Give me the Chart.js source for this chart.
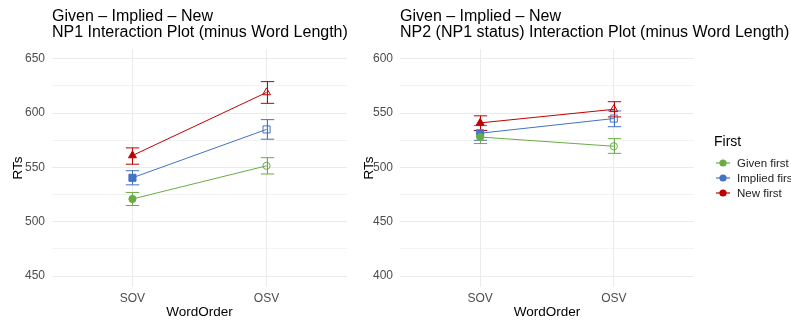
<!DOCTYPE html>
<html>
<head>
<meta charset="utf-8">
<script src="https://cdn.jsdelivr.net/npm/chart.js@4"></script>
<style>
  body { margin: 0; background: #fff; overflow: hidden; }
  #left { position: absolute; left: 0; top: 0; }
  #right { position: absolute; left: 355px; top: 0; }
</style>
</head>
<body>
<canvas id="left" width="355" height="320"></canvas>
<canvas id="right" width="436" height="320"></canvas>
<script>
// values
const categories = ['SOV', 'OSV'];
const groups = ['Given first', 'Implied first', 'New first'];

// NP1 panel
const np1Given = [521, 551.5], np1GivenLo = [515, 544], np1GivenHi = [527, 559];
const np1Implied = [540.5, 585], np1ImpliedLo = [534, 576], np1ImpliedHi = [547, 594];
const np1New = [561, 619], np1NewLo = [553, 609], np1NewHi = [568, 629];

// NP2 panel
const np2Given = [528, 519.5], np2GivenLo = [522, 513], np2GivenHi = [534, 526.5];
const np2Implied = [531.5, 545], np2ImpliedLo = [525, 537.5], np2ImpliedHi = [538.5, 552];
const np2New = [541, 553.5], np2NewLo = [534, 546.5], np2NewHi = [547.5, 560.5];

const colors = ['#6AAB45', '#4472C4', '#C00000'];
const shapes = ['circle', 'rect', 'triangle'];
const radii = [3.6, 5, 4.6];
const font = 'Liberation Sans, Arial, Helvetica, sans-serif';

// error bars, drawn under the points
const errorBars = {
  id: 'errorBars',
  beforeDatasetsDraw(chart) {
    const { ctx, scales: { x, y } } = chart;
    const half = (x.getPixelForValue(1.05) - x.getPixelForValue(0.95)) / 2;
    ctx.save();
    ctx.lineWidth = 1;
    chart.data.datasets.forEach(ds => {
      ctx.strokeStyle = ds.borderColor;
      ds.lo.forEach((lo, i) => {
        const px = Math.round(x.getPixelForValue(i + 1)) + 0.5;
        const yl = y.getPixelForValue(lo), yh = y.getPixelForValue(ds.hi[i]);
        ctx.beginPath();
        ctx.moveTo(px, yl); ctx.lineTo(px, yh);
        ctx.moveTo(px - half, yl); ctx.lineTo(px + half, yl);
        ctx.moveTo(px - half, yh); ctx.lineTo(px + half, yh);
        ctx.stroke();
      });
    });
    ctx.restore();
  }
};

// two-line title, left edge on the plot area like ggplot
const panelTitle = {
  id: 'panelTitle',
  afterDraw(chart, args, opts) {
    const { ctx, chartArea } = chart;
    ctx.save();
    ctx.fillStyle = '#000';
    ctx.font = '16px ' + font;
    ctx.textBaseline = 'alphabetic';
    opts.lines.forEach((t, i) => ctx.fillText(t, chartArea.left, 21 + i * 15.5));
    ctx.restore();
  }
};

// ggplot style legend at the right of the plot area
const sideLegend = {
  id: 'sideLegend',
  afterDraw(chart, args, opts) {
    if (!opts.show) return;
    const { ctx, chartArea } = chart;
    const x0 = chartArea.left + chartArea.width + 20;
    const mid = (chartArea.top + chartArea.bottom) / 2;
    ctx.save();
    ctx.textBaseline = 'middle';
    ctx.fillStyle = '#000';
    ctx.font = '14px ' + font;
    ctx.fillText(opts.title, x0, mid - 26);
    ctx.font = '11.5px ' + font;
    chart.data.datasets.forEach((ds, k) => {
      const yy = mid - 5 + k * 15;
      ctx.strokeStyle = ds.borderColor;
      ctx.fillStyle = ds.borderColor;
      ctx.lineWidth = 1.2;
      ctx.beginPath(); ctx.moveTo(x0 + 2, yy); ctx.lineTo(x0 + 16, yy); ctx.stroke();
      ctx.beginPath(); ctx.arc(x0 + 9, yy, 3.6, 0, Math.PI * 2); ctx.fill();
      ctx.fillStyle = '#222';
      ctx.fillText(ds.label, x0 + 23, yy + 0.5);
    });
    ctx.restore();
  }
};

function makeDatasets(vals, los, his) {
  return vals.map((v, k) => ({
    label: groups[k],
    data: v.map((y, i) => ({ x: i + 1, y: y })),
    lo: los[k], hi: his[k],
    borderColor: colors[k],
    borderWidth: 1,
    pointStyle: shapes[k],
    pointRadius: radii[k],
    pointBorderWidth: 1,
    pointBorderColor: colors[k],
    pointBackgroundColor: ctx => ctx.dataIndex === 0 ? colors[k] : 'rgba(0,0,0,0)'
  }));
}

function makeChart(id, title, datasets, yMin, yMax, padLeft, yWidth, showLegend) {
  return new Chart(document.getElementById(id), {
    type: 'line',
    data: { datasets },
    plugins: [errorBars, panelTitle, sideLegend],
    options: {
      responsive: false,
      animation: false,
      layout: { padding: { left: padLeft, right: showLegend ? 97 : 8, top: 49, bottom: 0 } },
      plugins: {
        panelTitle: { lines: title },
        sideLegend: { show: showLegend, title: 'First' },
        title: { display: false },
        legend: { display: false },
        tooltip: { enabled: false }
      },
      scales: {
        x: {
          type: 'linear', min: 0.4, max: 2.6,
          afterBuildTicks: s => { s.ticks = [{ value: 1 }, { value: 2 }]; },
          afterFit: s => { s.height = 33; },
          ticks: { callback: v => categories[v - 1], color: '#4D4D4D', font: { family: font, size: 12 }, padding: 4 },
          grid: { color: '#EBEBEB', drawTicks: false },
          border: { display: false },
          title: { display: true, text: 'WordOrder', color: '#000', font: { family: font, size: 13.5 }, padding: 0 }
        },
        y: {
          min: yMin, max: yMax,
          afterBuildTicks: s => {
            const t = [];
            for (let v = Math.ceil(yMin / 25) * 25; v <= yMax; v += 25) t.push({ value: v });
            s.ticks = t;
          },
          afterFit: s => { s.width = yWidth; },
          ticks: {
            callback: v => v % 50 === 0 ? v : '',
            color: '#4D4D4D', font: { family: font, size: 12 }, padding: 7
          },
          grid: {
            color: '#EBEBEB', drawTicks: false,
            lineWidth: ctx => (ctx.tick && ctx.tick.value % 50 === 0) ? 1 : 0.6
          },
          border: { display: false },
          title: { display: true, text: 'RTs', color: '#000', font: { family: font, size: 13.5 }, padding: 0 }
        }
      }
    }
  });
}

makeChart('left', ['Given \u2013 Implied \u2013 New', 'NP1 Interaction Plot (minus Word Length)'],
  makeDatasets([np1Given, np1Implied, np1New], [np1GivenLo, np1ImpliedLo, np1NewLo], [np1GivenHi, np1ImpliedHi, np1NewHi]),
  440, 659, 10, 42, false);

makeChart('right', ['Given \u2013 Implied \u2013 New', 'NP2 (NP1 status) Interaction Plot (minus Word Length)'],
  makeDatasets([np2Given, np2Implied, np2New], [np2GivenLo, np2ImpliedLo, np2NewLo], [np2GivenHi, np2ImpliedHi, np2NewHi]),
  390, 609, 6, 39, true);
</script>
</body>
</html>
